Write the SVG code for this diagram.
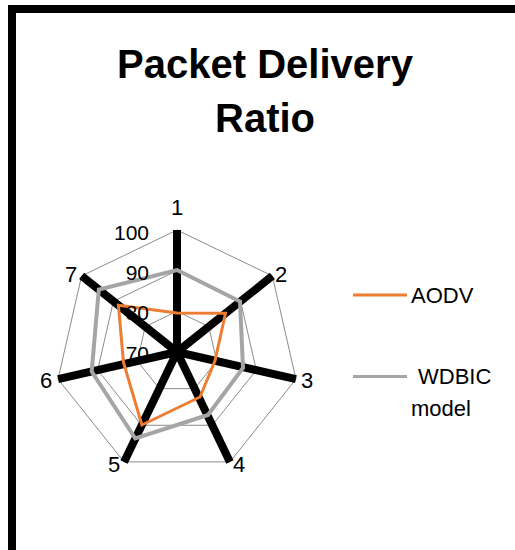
<svg xmlns="http://www.w3.org/2000/svg" width="515" height="550" viewBox="0 0 515 550">
<style>
.t{font-family:"Liberation Sans",Arial,sans-serif;fill:#000}
.title{font-size:40px;font-weight:bold;text-anchor:middle}
.lbl{font-size:22px;text-anchor:middle}
.val{font-size:21px;text-anchor:end}
.leg{font-size:22px}
.ring{fill:none;stroke:#8c8c8c;stroke-width:1}
.axis{stroke:#000;stroke-width:8}
.aodv{fill:none;stroke:#ED7D31;stroke-width:3;stroke-linejoin:miter}
.wdbic{fill:none;stroke:#A5A5A5;stroke-width:4;stroke-linejoin:miter}
</style>
<rect x="0" y="0" width="515" height="550" fill="#fff"/>
<rect id="frame" x="12" y="9" width="600" height="600" fill="#fff" stroke="#000" stroke-width="8"/>
<g id="title">
<text class="t title" x="265" y="78">Packet Delivery</text>
<text class="t title" x="265" y="132">Ratio</text>
</g>
<g id="rings">
<polygon class="ring" points="177,230 272.38,275.93 295.94,379.15 229.94,461.92 124.06,461.92 58.06,379.15 81.62,275.93"/>
<polygon class="ring" points="177,270.67 240.59,301.29 256.29,370.1 212.29,425.28 141.71,425.28 97.71,370.1 113.41,301.29"/>
<polygon class="ring" points="177,311.33 208.8,326.64 216.65,361.05 194.65,388.64 159.35,388.64 137.35,361.05 145.2,326.64"/>
</g>
<g id="connectors">
<line class="axis" x1="177" y1="352" x2="177" y2="230"/>
<line class="axis" x1="177" y1="352" x2="272.38" y2="275.93"/>
<line class="axis" x1="177" y1="352" x2="295.94" y2="379.15"/>
<line class="axis" x1="177" y1="352" x2="229.94" y2="461.92"/>
<line class="axis" x1="177" y1="352" x2="124.06" y2="461.92"/>
<line class="axis" x1="177" y1="352" x2="58.06" y2="379.15"/>
<line class="axis" x1="177" y1="352" x2="81.62" y2="275.93"/>
</g>
<g id="series-wdbic">
<polygon class="wdbic" points="177,270 240,301.5 243,368 208,415 135.3,438.5 91.7,371.5 98.8,289.6"/>
</g>
<g id="series-aodv">
<polygon class="aodv" points="177,313 225.5,313.3 215,360.7 200,397 141.9,425 123.5,362.5 118.4,305.2"/>
</g>
<g id="axis-labels">
<text class="t lbl" x="177" y="215">1</text>
<text class="t lbl" x="281" y="282">2</text>
<text class="t lbl" x="307" y="388">3</text>
<text class="t lbl" x="239" y="472">4</text>
<text class="t lbl" x="114" y="472">5</text>
<text class="t lbl" x="46" y="388">6</text>
<text class="t lbl" x="71" y="282">7</text>
</g>
<g id="value-labels">
<text class="t val" x="149" y="240">100</text>
<text class="t val" x="149" y="280">90</text>
<text class="t val" x="149" y="320">80</text>
<text class="t val" x="149" y="361">70</text>
</g>
<g id="legend">
<g id="legend-aodv">
<line x1="353" y1="295" x2="407" y2="295" stroke="#ED7D31" stroke-width="3"/>
<text class="t leg" x="411" y="302.5">AODV</text>
</g>
<g id="legend-wdbic">
<line x1="353" y1="376.5" x2="407" y2="376.5" stroke="#A5A5A5" stroke-width="3"/>
<text class="t leg" x="418" y="383.5">WDBIC</text>
<text class="t leg" x="411" y="415.5">model</text>
</g>
</g>
</svg>
